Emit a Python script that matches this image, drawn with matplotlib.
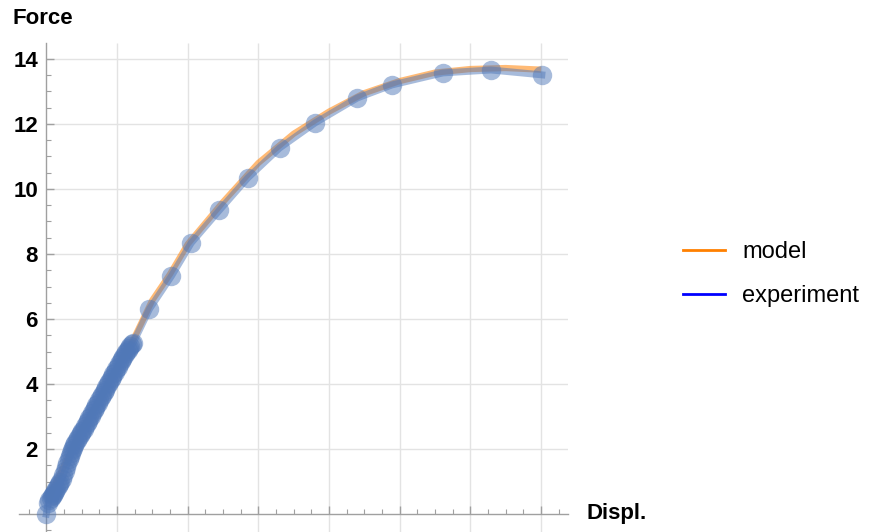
import numpy as np
import matplotlib.pyplot as plt
from matplotlib.lines import Line2D
from matplotlib.ticker import MultipleLocator, FixedLocator

plt.rcParams['font.family'] = ['Liberation Sans', 'DejaVu Sans']

# --- data ---
# dense start of the experiment (overlapping markers)
dense_x = [0.03, 0.045, 0.06, 0.075, 0.09, 0.105, 0.12,
           0.14, 0.16, 0.18, 0.20, 0.22, 0.24, 0.26, 0.28, 0.30, 0.32,
           0.335, 0.35, 0.365, 0.38, 0.395, 0.41,
           0.43, 0.45, 0.47, 0.49, 0.51, 0.53, 0.55, 0.57, 0.59, 0.61,
           0.63, 0.65, 0.67, 0.69, 0.71, 0.73, 0.75, 0.77, 0.79, 0.81,
           0.83, 0.85, 0.87, 0.89, 0.91, 0.93, 0.95, 0.97, 0.99, 1.01,
           1.03, 1.05, 1.07, 1.09, 1.11, 1.13, 1.15, 1.17, 1.19, 1.21, 1.23]
dense_y = [0.35, 0.42, 0.49, 0.55, 0.60, 0.66, 0.71,
           0.78, 0.85, 0.92, 0.98, 1.08, 1.20, 1.32, 1.45, 1.58, 1.70,
           1.79, 1.88, 1.96, 2.04, 2.12, 2.19,
           2.27, 2.35, 2.42, 2.49, 2.56, 2.63, 2.71, 2.79, 2.87, 2.95,
           3.03, 3.11, 3.19, 3.27, 3.35, 3.43, 3.51, 3.59, 3.67, 3.75,
           3.83, 3.91, 3.99, 4.07, 4.15, 4.22, 4.30, 4.38, 4.46, 4.54,
           4.62, 4.70, 4.77, 4.84, 4.91, 4.98, 5.04, 5.10, 5.16, 5.22, 5.27]
# sparse part of the experiment
sparse_x = [1.46, 1.77, 2.05, 2.45, 2.85, 3.30, 3.80, 4.40, 4.89, 5.61, 6.29, 7.01]
sparse_y = [6.31, 7.32, 8.34, 9.35, 10.34, 11.26, 12.03, 12.80, 13.20, 13.57, 13.66, 13.51]

exp_x = [0.0] + dense_x + sparse_x
exp_y = [0.0] + dense_y + sparse_y

model_x = [0.03, 0.1, 0.3, 0.5, 0.75, 1.0, 1.25, 1.5, 1.75, 2.0, 2.5, 3.0,
           3.5, 4.0, 4.5, 5.0, 5.5, 6.0, 6.5, 7.0]
model_y = [0.35, 0.8, 1.7, 2.6, 3.5, 4.5, 5.45, 6.58, 7.38, 8.3, 9.6, 10.8,
           11.7, 12.38, 12.95, 13.32, 13.58, 13.69, 13.72, 13.67]

y_major = [2, 4, 6, 8, 10, 12, 14]
x_major = [1, 2, 3, 4, 5, 6, 7]

x_lo, x_hi = -0.386, 7.38
y_lo, y_hi = -0.55, 14.49

fig = plt.figure(figsize=(8.82, 5.32), dpi=100)
ax = fig.add_axes([19 / 882, 0.0, 549 / 882, 489 / 532])
ax.set_xlim(x_lo, x_hi)
ax.set_ylim(y_lo, y_hi)

# grid
grid_c = '#e3e3e3'
ax.hlines(y_major, 0, x_hi, color=grid_c, lw=1, zorder=0)
ax.vlines(x_major, y_lo, y_hi, color=grid_c, lw=1, zorder=0)

# curves
ax.plot(model_x, model_y, color='#ff8c1a', alpha=0.6, lw=4.5,
        solid_capstyle='butt', zorder=2)
ax.plot(exp_x, exp_y, color='#5078b8', alpha=0.5, lw=5, zorder=3)
ax.plot(exp_x, exp_y, ls='none', marker='o', ms=14, mec='none',
        mfc='#5078b8', alpha=0.5, zorder=4)

# axes through origin
for s in ['top', 'right']:
    ax.spines[s].set_visible(False)
for s in ['left', 'bottom']:
    ax.spines[s].set_position(('data', 0))
    ax.spines[s].set_color('#a0a0a0')
    ax.spines[s].set_linewidth(1)

ax.yaxis.set_major_locator(FixedLocator(y_major))
ax.yaxis.set_minor_locator(MultipleLocator(0.5))
ax.xaxis.set_major_locator(FixedLocator(x_major))
ax.xaxis.set_minor_locator(MultipleLocator(0.25))
ax.set_xticklabels([])
ax.tick_params(which='both', direction='in', color='#a0a0a0')
ax.tick_params(which='major', length=6, width=1)
ax.tick_params(which='minor', length=3.5, width=0.8)
ax.tick_params(axis='y', labelsize=16, pad=6)
for lab in ax.get_yticklabels():
    lab.set_fontweight('bold')

fig.text(12 / 882, 1 - 18 / 532, 'Force', fontsize=16, fontweight='bold',
         ha='left', va='center')
fig.text(587 / 882, 1 - 514 / 532, 'Displ.', fontsize=16, fontweight='bold',
         ha='left', va='center')

handles = [Line2D([], [], color='#ff8000', lw=2),
           Line2D([], [], color='#0000ff', lw=2)]
fig.legend(handles, ['model', 'experiment'], loc='center left',
           bbox_to_anchor=(662 / 882, 1 - 274 / 532), frameon=False,
           fontsize=17, handlelength=1.75, handletextpad=0.75, labelspacing=0.95)

fig.savefig('out.png', dpi=100)
